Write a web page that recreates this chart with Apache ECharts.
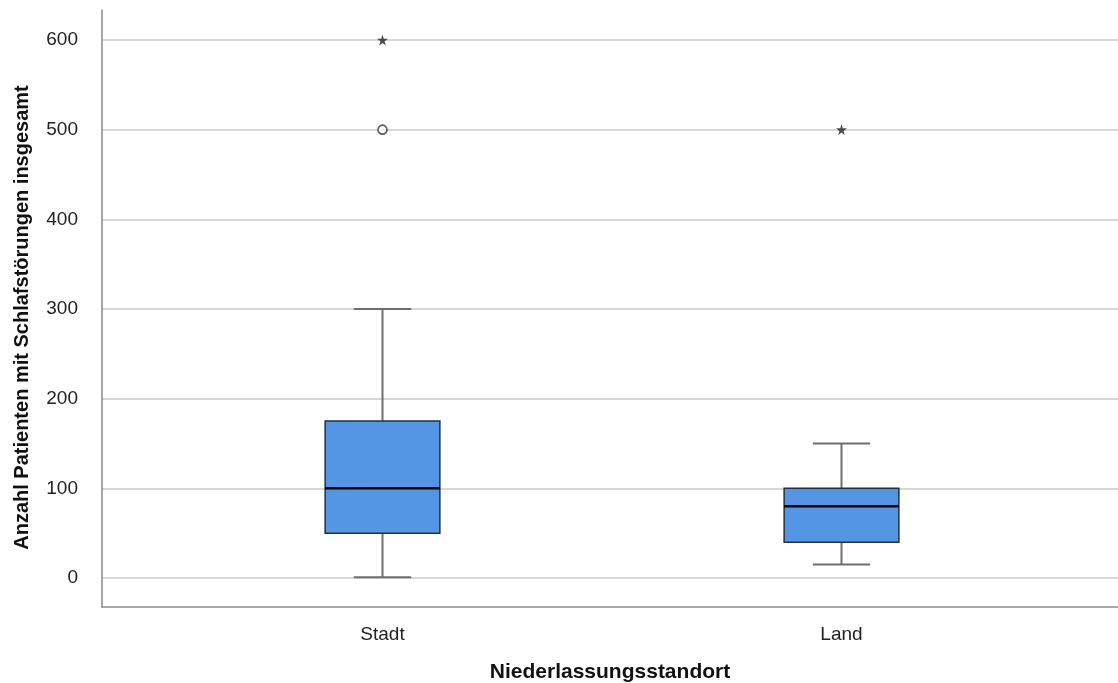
<!DOCTYPE html>
<html>
<head>
<meta charset="utf-8">
<script src="https://cdn.jsdelivr.net/npm/echarts@6/dist/echarts.min.js"></script>
<style>html,body{margin:0;padding:0;background:#fff}#c{width:1118px;height:683px}</style>
</head>
<body>
<div id="c"></div>
<script>
const categories = ['Stadt', 'Land'];
const whiskerLow = [1, 15];
const q1 = [50, 40];
const median = [100, 80];
const q3 = [175, 100];
const whiskerHigh = [300, 150];
const outliers = [['Stadt', 500]];
const extremes = [['Stadt', 600], ['Land', 500]];
const yMin = -32.3, yMax = 633.4;

const boxData = categories.map((c, i) => [i, whiskerLow[i], q1[i], median[i], q3[i], whiskerHigh[i]]);

const chart = echarts.init(document.getElementById('c'), null, {renderer: 'canvas'});
const font = 'Liberation Sans, Arial, sans-serif';
chart.setOption({
  animation: false,
  backgroundColor: '#fff',
  grid: [
    {left: 102, right: 0, top: 10, bottom: 76, outerBoundsMode: 'none', containLabel: false},
    {left: 153, right: 47, top: 10, bottom: 76, outerBoundsMode: 'none', containLabel: false}
  ],
  xAxis: [
    {gridIndex: 0, type: 'value', min: 0, max: 1,
     axisLine: {show: true, onZero: false, lineStyle: {color: '#8a8a8a', width: 1.5}},
     axisTick: {show: false}, axisLabel: {show: false}, splitLine: {show: false},
     name: 'Niederlassungsstandort', nameLocation: 'middle', nameGap: 55,
     nameTextStyle: {fontFamily: font, fontSize: 21, fontWeight: 'bold', color: '#111'}},
    {gridIndex: 1, type: 'category', data: categories,
     axisLine: {show: false, onZero: false}, axisTick: {show: false},
     axisLabel: {fontFamily: font, fontSize: 19, color: '#222', margin: 18}}
  ],
  yAxis: [
    {gridIndex: 0, type: 'value', min: yMin, max: yMax,
     axisLine: {show: true, lineStyle: {color: '#8a8a8a', width: 1.5}},
     axisTick: {show: false},
     axisLabel: {fontFamily: font, fontSize: 19, color: '#222', margin: 24, showMinLabel: false, showMaxLabel: false},
     splitLine: {show: true, showMinLine: false, showMaxLine: false, lineStyle: {color: '#c8c8c8', width: 1.5}},
     name: 'Anzahl Patienten mit Schlafstörungen insgesamt', nameLocation: 'middle', nameGap: 70,
     nameTextStyle: {fontFamily: font, fontSize: 20, fontWeight: 'bold', color: '#111', padding: [0, 18, 0, 0]}},
    {gridIndex: 1, type: 'value', min: yMin, max: yMax, show: false, splitLine: {show: false}}
  ],
  series: [
    {
      type: 'custom', xAxisIndex: 1, yAxisIndex: 1,
      data: boxData,
      encode: {x: 0, y: [1, 2, 3, 4, 5]},
      renderItem: function (params, api) {
        const x = api.value(0);
        const band = api.size([1, 0])[0];
        const bw = band * 0.25;
        const cw = bw * 0.5;
        const pLo = api.coord([x, api.value(1)]);
        const pQ1 = api.coord([x, api.value(2)]);
        const pMed = api.coord([x, api.value(3)]);
        const pQ3 = api.coord([x, api.value(4)]);
        const pHi = api.coord([x, api.value(5)]);
        const cx = pMed[0];
        const wStyle = {stroke: '#6e6e6e', lineWidth: 2};
        return {
          type: 'group',
          children: [
            {type: 'line', shape: {x1: cx, y1: pLo[1], x2: cx, y2: pQ1[1]}, style: wStyle},
            {type: 'line', shape: {x1: cx, y1: pQ3[1], x2: cx, y2: pHi[1]}, style: wStyle},
            {type: 'line', shape: {x1: cx - cw / 2, y1: pLo[1], x2: cx + cw / 2, y2: pLo[1]}, style: wStyle},
            {type: 'line', shape: {x1: cx - cw / 2, y1: pHi[1], x2: cx + cw / 2, y2: pHi[1]}, style: wStyle},
            {type: 'rect', shape: {x: cx - bw / 2, y: pQ3[1], width: bw, height: pQ1[1] - pQ3[1]},
             style: {fill: '#5596e4', stroke: '#223044', lineWidth: 1.5}},
            {type: 'line', shape: {x1: cx - bw / 2, y1: pMed[1], x2: cx + bw / 2, y2: pMed[1]},
             style: {stroke: '#000', lineWidth: 2.5}}
          ]
        };
      }
    },
    {
      type: 'scatter', xAxisIndex: 1, yAxisIndex: 1,
      data: outliers, symbol: 'circle', symbolSize: 9,
      itemStyle: {color: '#fff', borderColor: '#333', borderWidth: 1.6}
    },
    {
      type: 'scatter', xAxisIndex: 1, yAxisIndex: 1,
      data: extremes,
      symbol: 'path://M50,0 L61,35 L98,35 L68,57 L79,91 L50,70 L21,91 L32,57 L2,35 L39,35 Z',
      symbolSize: 11,
      itemStyle: {color: '#222'}
    }
  ]
});
</script>
</body>
</html>
